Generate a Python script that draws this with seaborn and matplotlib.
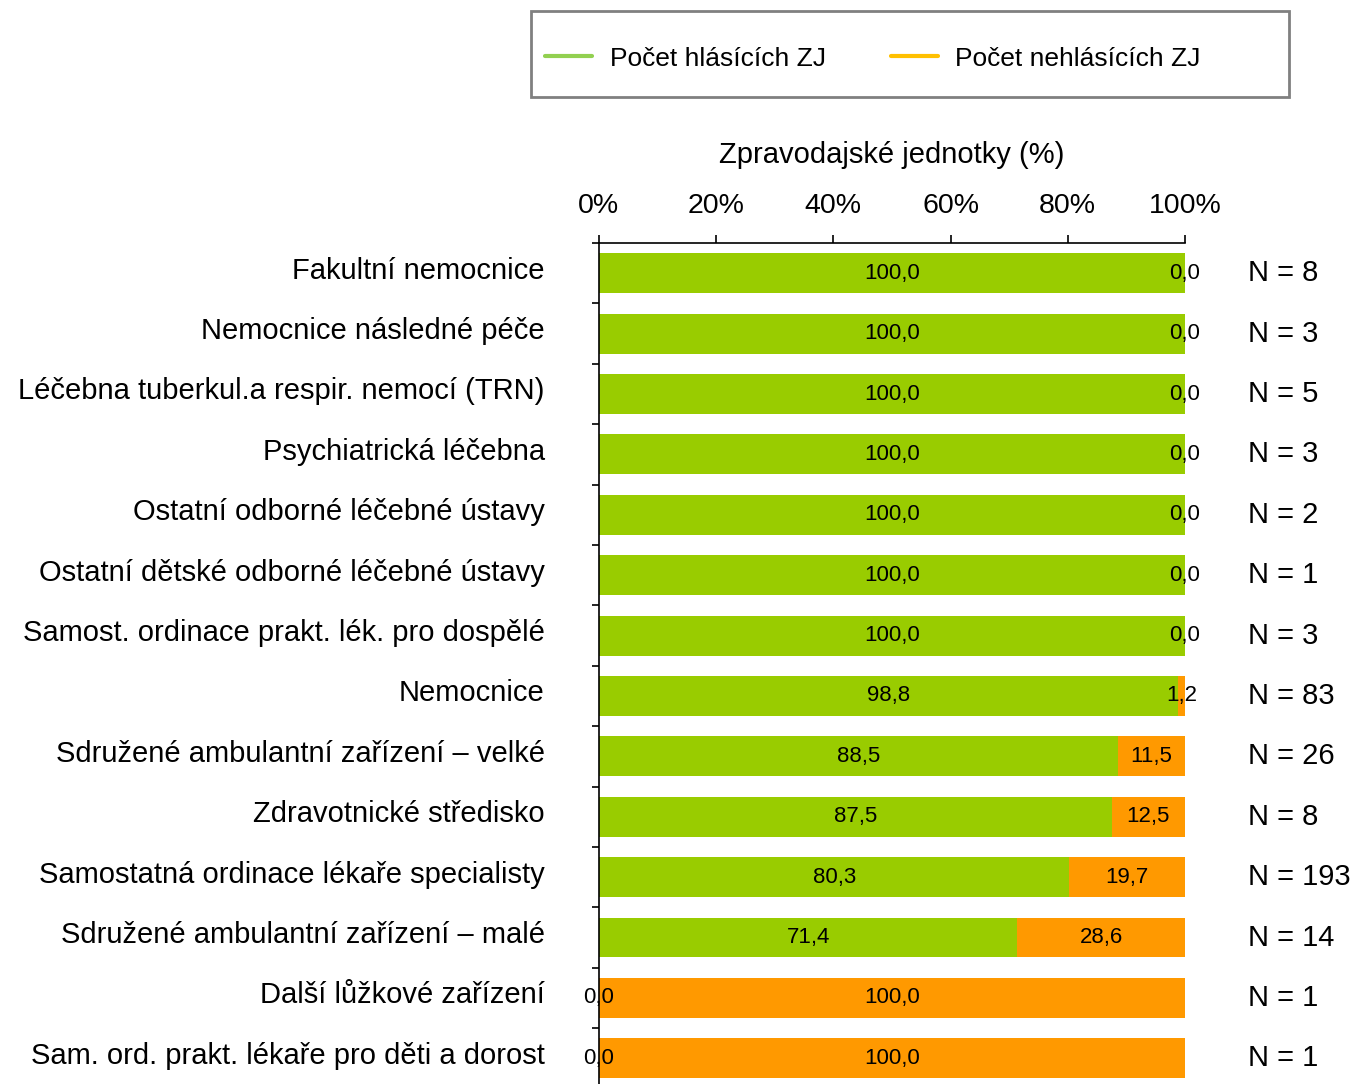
import matplotlib
matplotlib.use("Agg")
import matplotlib.pyplot as plt
import matplotlib.transforms as mtransforms
from matplotlib.lines import Line2D
from matplotlib.patches import Rectangle
import seaborn as sns
import numpy as np

# data
categories = [
    "Fakultní nemocnice",
    "Nemocnice následné péče",
    "Léčebna tuberkul.a respir. nemocí (TRN)",
    "Psychiatrická léčebna",
    "Ostatní odborné léčebné ústavy",
    "Ostatní dětské odborné léčebné ústavy",
    "Samost. ordinace prakt. lék. pro dospělé",
    "Nemocnice",
    "Sdružené ambulantní zařízení – velké",
    "Zdravotnické středisko",
    "Samostatná ordinace lékaře specialisty",
    "Sdružené ambulantní zařízení – malé",
    "Další lůžkové zařízení",
    "Sam. ord. prakt. lékaře pro děti a dorost",
]
hlasici = [100.0, 100.0, 100.0, 100.0, 100.0, 100.0, 100.0, 98.8, 88.5, 87.5, 80.3, 71.4, 0.0, 0.0]
nehlasici = [0.0, 0.0, 0.0, 0.0, 0.0, 0.0, 0.0, 1.2, 11.5, 12.5, 19.7, 28.6, 100.0, 100.0]
counts = [8, 3, 5, 3, 2, 1, 3, 83, 26, 8, 193, 14, 1, 1]
xticks = [0, 20, 40, 60, 80, 100]

GREEN = "#99CC00"
ORANGE = "#FF9900"

sns.set_style("white")
plt.rcParams["font.family"] = ["Liberation Sans", "DejaVu Sans"]
plt.rcParams["text.color"] = "black"
plt.rcParams["axes.labelcolor"] = "black"
plt.rcParams["xtick.color"] = "black"
plt.rcParams["ytick.color"] = "black"

fig = plt.figure(figsize=(13.55, 10.84), dpi=100)
ax = fig.add_axes([0.442, -0.0042, 0.4325, 0.78])

total = np.array(hlasici) + np.array(nehlasici)
# stacked: full bar in orange, green part drawn over it
sns.barplot(x=total, y=categories, orient="h", color=ORANGE, saturation=1,
            width=0.66, linewidth=0, ax=ax)
sns.barplot(x=hlasici, y=categories, orient="h", color=GREEN, saturation=1,
            width=0.66, linewidth=0, ax=ax)

fmt = lambda v: f"{v:.1f}".replace(".", ",")
for i, (g, o) in enumerate(zip(hlasici, nehlasici)):
    ax.text(g / 2, i, fmt(g), ha="center", va="center", fontsize=16)
    ax.text(g + o / 2, i, fmt(o), ha="center", va="center", fontsize=16)
    ax.text(1.1075, i, f"N = {counts[i]}", transform=ax.get_yaxis_transform(),
            ha="left", va="center", fontsize=21)

ax.set_xlim(0, 100)
ax.set_ylim(len(categories) - 0.5, -0.5)
ax.xaxis.tick_top()
ax.xaxis.set_label_position("top")
ax.set_xticks(xticks)
ax.set_xticklabels([f"{t}%" for t in xticks], fontsize=20.5)
ax.set_xlabel("Zpravodajské jednotky (%)", fontsize=21, labelpad=22)
ax.set_ylabel("")
ax.tick_params(axis="x", direction="out", length=6, width=1.2, pad=11, colors="black")
ax.tick_params(axis="y", which="major", left=False, length=0, pad=39, labelsize=21)
# category labels sit a little above the bar centres
shift = mtransforms.ScaledTranslation(0, 4 / 72, fig.dpi_scale_trans)
for lab in ax.get_yticklabels():
    lab.set_transform(lab.get_transform() + shift)
ax.set_yticks(np.arange(-0.5, len(categories), 1.0), minor=True)
ax.tick_params(axis="y", which="minor", left=True, direction="out", length=5, width=1.2,
               colors="black")

for s in ["right", "bottom"]:
    ax.spines[s].set_visible(False)
for s in ["top", "left"]:
    ax.spines[s].set_color("black")
    ax.spines[s].set_linewidth(1.2)

# legend with a separate box
handles = [Line2D([], [], color="#92D050", lw=3),
           Line2D([], [], color="#FFC000", lw=3)]
fig.legend(handles, ["Počet hlásících ZJ", "Počet nehlásících ZJ"], ncol=2,
           loc="center left", bbox_to_anchor=(0.4022, 0.946), frameon=False,
           fontsize=19, handlelength=1.8, handletextpad=0.65, columnspacing=2.47,
           borderpad=0, borderaxespad=0)
fig.patches.append(Rectangle((0.392, 0.9105), 0.559, 0.0795, transform=fig.transFigure,
                             fill=False, edgecolor="#808080", lw=2))

fig.savefig("out.png", dpi=100)
